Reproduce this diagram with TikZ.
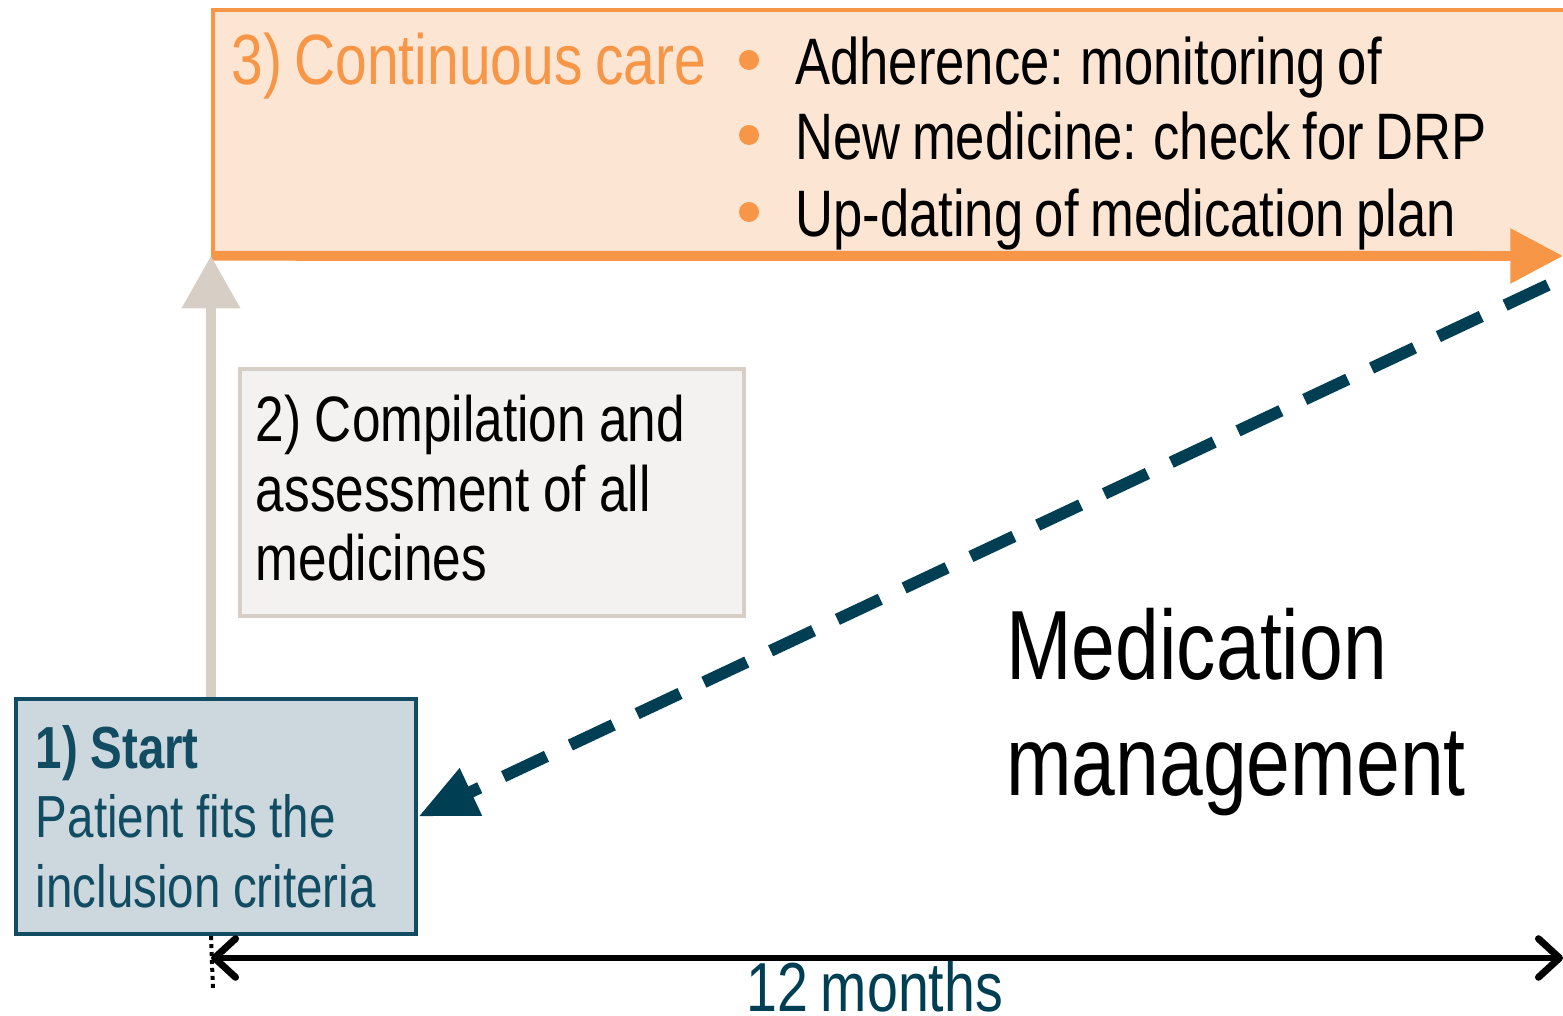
\documentclass[tikz,border=0pt]{standalone}
\usepackage{fontspec}
\setmainfont{Liberation Sans}[FakeStretch=0.8, WordSpace=0.8]
\usetikzlibrary{arrows.meta,positioning}

\definecolor{careorange}{RGB}{247,150,70}
\definecolor{carefill}{RGB}{253,229,211}
\definecolor{compgray}{RGB}{215,206,197}
\definecolor{compfill}{RGB}{243,242,240}
\definecolor{startteal}{RGB}{18,76,98}
\definecolor{startfill}{RGB}{204,216,222}
\definecolor{mgmtteal}{RGB}{0,62,84}

\newcommand{\pxu}{pt*0.567}
\newcommand{\tightspaces}{\raggedright\spaceskip=0.21em plus 0.05em\relax\xspaceskip=0.3em\relax}

\tikzset{
    carebox/.style={anchor=north west, fill=carefill, inner sep=0pt,
        minimum width=1400\pxu, minimum height=248\pxu},
    compbox/.style={anchor=north west, draw=compgray, fill=compfill, line width=4\pxu,
        execute at begin node=\tightspaces, execute at end node=\par\vspace{5pt},
        inner xsep=16\pxu, inner ysep=6\pxu,
        text width=474\pxu, minimum height=248\pxu, font=\fontsize{36.5}{39.7}\selectfont},
    startbox/.style={anchor=north west, draw=startteal, fill=startfill, line width=4\pxu,
        execute at begin node=\tightspaces, inner xsep=20\pxu, inner ysep=8\pxu,
        text width=362\pxu, minimum height=236\pxu, text=startteal,
        font=\fontsize{33.8}{39.7}\selectfont},
}

\begin{document}
\begin{tikzpicture}[x=0.02cm, y=-0.02cm]
        % Picture frame in pixels of the reference
        \useasboundingbox (0,0) rectangle (1563,1016);

        % Step 3: the running box across the top
        \node[carebox] (care) at (211,8) {};
        \draw[careorange, line width=4\pxu] (1600,10) -- (213,10) -- (213,256);
        \node[anchor=base west, text=careorange, inner sep=0pt,
            font=\fontsize{40.5}{43.7}\selectfont] (careTitle) at (231,85) {3) Continuous care};
        \foreach \y/\txt in {85/Adherence: monitoring of,
                             160/New medicine: check for DRP,
                             237/Up-dating of medication plan} {
            \fill[careorange] (749,\y-25) circle (10);
            \node[anchor=base west, inner sep=0pt,
                font=\fontsize{37.4}{43.7}\selectfont] at (795,\y) {\txt};
        }
        \coordinate (careEnd) at (1563,256);
        \draw[careorange, line width=10\pxu, -{Triangle[length=30pt, width=30pt]}]
            (care.south west) -- (careEnd);

        % Step 2 and step 1
        \node[compbox] (comp) at (238,367) {2) Compilation and\\assessment of all\\medicines};
        \node[startbox] (start) at (14,697) {\textbf{1) Start}\\Patient fits the\\inclusion criteria};

        % Arrow from the start up to continuous care
        \draw[compgray, line width=10\pxu, -{Triangle[length=30pt, width=32pt]}]
            (start.north -| care.south west) -- (care.south west);

        % Medication management loops back to the start
        \coordinate (mgmtEnd) at (1548,285);
        \draw[mgmtteal, line width=12\pxu, dash pattern=on 27pt off 15pt,
            -{Triangle[length=33pt, width=28pt]}] (mgmtEnd) -- (start.east);
        \node[anchor=north west, align=left, inner sep=0pt,
            font=\fontsize{56}{66}\selectfont] (mgmt) at (1006,608) {Medication\\management};

        % Time line of twelve months
        \coordinate (t0) at (211,958);
        \coordinate (t1) at (1563,958);
        \draw[line width=7\pxu, {Straight Barb[round, length=12pt, width=22pt]}-{Straight Barb[round, length=12pt, width=22pt]}]
            (t0) -- (t1);
        \draw[line width=4\pxu, dash pattern=on 4\pxu off 4\pxu] (start.south -| t0) -- (213,990);
        \node[text=mgmtteal, inner sep=0pt, font=\fontsize{39.5}{42}\selectfont,
            anchor=base] (months) at (875,1011) {12 months};

    \end{tikzpicture}
\end{document}
